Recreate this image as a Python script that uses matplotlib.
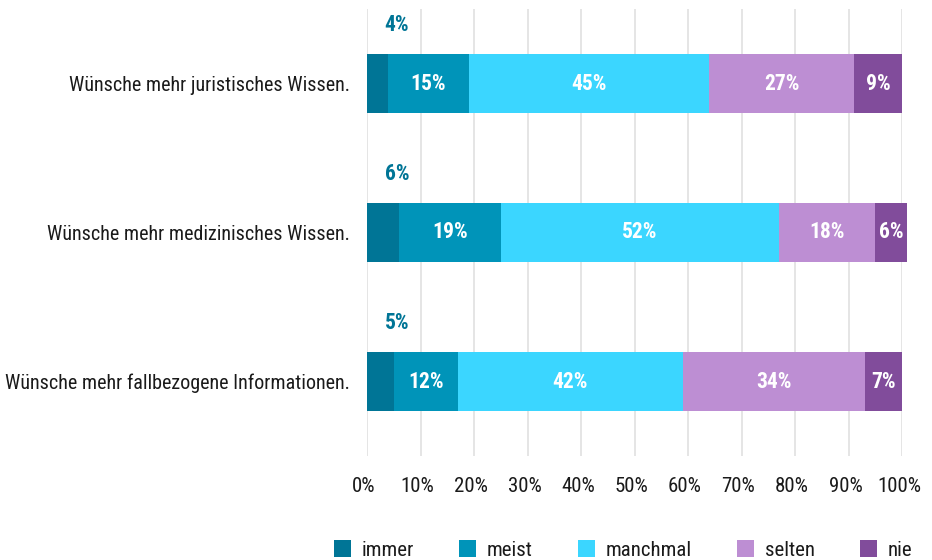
import matplotlib
matplotlib.use("Agg")
import matplotlib.pyplot as plt
from matplotlib import font_manager
from matplotlib.patches import Patch
from matplotlib.transforms import ScaledTranslation

# ---- data ----
categories = [
    "Wünsche mehr fallbezogene Informationen.",
    "Wünsche mehr medizinisches Wissen.",
    "Wünsche mehr juristisches Wissen.",
]
series_names = ["immer", "meist", "manchmal", "selten", "nie"]
immer = [5, 6, 4]
meist = [12, 19, 15]
manchmal = [42, 52, 45]
selten = [34, 18, 27]
nie = [7, 6, 9]
x_ticks = [0, 10, 20, 30, 40, 50, 60, 70, 80, 90, 100]
x_tick_labels = [f"{t}%" for t in x_ticks]

colors = ["#007596", "#0094b9", "#3bd6ff", "#bd8ed3", "#814c9b"]

# ---- font ----
available = {f.name for f in font_manager.fontManager.ttflist}
family = "DejaVu Sans"
for cand in ["Roboto Condensed", "Archivo Narrow", "Liberation Sans Narrow", "Sofia Sans Condensed", "Roboto"]:
    if cand in available:
        family = cand
        break
plt.rcParams["font.family"] = [family, "DejaVu Sans"]

fig = plt.figure(figsize=(9.32, 5.6), dpi=100)
ax = fig.add_axes([367 / 932, 1 - 456 / 560, 535 / 932, 447 / 560])

ypos = list(range(len(categories)))
data = [immer, meist, manchmal, selten, nie]
left = [0] * len(categories)
bar_h = 0.4
for si, (name, vals, col) in enumerate(zip(series_names, data, colors)):
    ax.barh(ypos, vals, left=left, height=bar_h, color=col, label=name,
            linewidth=0, zorder=3, clip_on=False)
    for yi, (v, l) in enumerate(zip(vals, left)):
        if si == 0:
            ax.text(l + 5.6, yi + 0.39, f"{v}%", ha="center", va="center",
                    color=colors[0], fontsize=15.5, fontweight="bold", zorder=4)
        else:
            ax.text(l + v / 2, yi, f"{v}%", ha="center", va="center",
                    color="white", fontsize=15.5, fontweight="bold", zorder=4)
    left = [a + b for a, b in zip(left, vals)]

ax.set_xlim(0, 100)
ax.set_ylim(-0.5, len(categories) - 0.5)
ax.set_xticks(x_ticks)
ax.set_xticklabels(x_tick_labels)
ax.set_yticks(ypos)
ax.set_yticklabels(categories)
ax.tick_params(axis="x", length=0, pad=15, labelsize=15, labelcolor="#1a1a1a")
ax.tick_params(axis="y", length=0, pad=12, labelsize=14.5, labelcolor="#1a1a1a")
shift = ScaledTranslation(-3 / 100, 0, fig.dpi_scale_trans)
for lab in ax.get_xticklabels():
    lab.set_transform(lab.get_transform() + shift)
for s in ax.spines.values():
    s.set_visible(False)
ax.grid(axis="x", color="#e0e0e0", linewidth=1.2, zorder=0)
ax.set_axisbelow(True)

handles = [Patch(facecolor=c, edgecolor="none") for c in colors]
fig.legend(handles, series_names, loc="center", bbox_to_anchor=(623 / 932, 1 - 550 / 560),
           ncol=5, frameon=False, fontsize=15, handlelength=0.82, handleheight=0.82,
           handletextpad=0.53, columnspacing=2.15, labelcolor="#1a1a1a",
           borderpad=0, borderaxespad=0)

fig.savefig("out.png", dpi=100)
